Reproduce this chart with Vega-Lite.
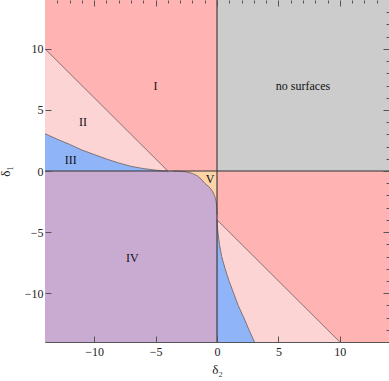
{
  "$schema": "https://vega.github.io/schema/vega-lite/v6.json",
  "width": 344,
  "height": 342,
  "autosize": {"type": "none"},
  "padding": {"left": 45, "top": 0, "right": 0, "bottom": 39},
  "background": "white",
  "config": {
    "view": {"stroke": "#555555", "strokeWidth": 1},
    "axis": {
      "grid": false,
      "domainColor": "#555555",
      "tickColor": "#555555",
      "labelFont": "Liberation Serif",
      "labelFontSize": 12,
      "labelColor": "#222222",
      "titleFont": "Liberation Serif",
      "titleFontSize": 13,
      "titleFontWeight": "normal",
      "titleColor": "#222222"
    }
  },
  "datasets": {
    "quads": [
      {"region": "I", "x1": -14, "x2": 0, "y1": 0, "y2": 14},
      {"region": "none", "x1": 0, "x2": 14, "y1": 0, "y2": 14},
      {"region": "I", "x1": 0, "x2": 14, "y1": -14, "y2": 0},
      {"region": "IV", "x1": -14, "x2": 0, "y1": -14, "y2": 0}
    ],
    "lineUL": [{"d2": -14, "d1": 10}, {"d2": -4, "d1": 0}],
    "curveUL": [
      {"d2": -14, "d1": 3.05}, {"d2": -13, "d1": 2.6}, {"d2": -12, "d1": 2.18},
      {"d2": -11, "d1": 1.72}, {"d2": -10, "d1": 1.35}, {"d2": -9, "d1": 0.98},
      {"d2": -8, "d1": 0.66}, {"d2": -7, "d1": 0.38}, {"d2": -6, "d1": 0.2},
      {"d2": -5, "d1": 0.07}, {"d2": -4.5, "d1": 0.02}, {"d2": -4, "d1": 0}
    ],
    "lineLR": [{"d2": 0, "d1": -4}, {"d2": 10, "d1": -14}],
    "curveLR": [
      {"d1": -14, "d2": 3.05}, {"d1": -13, "d2": 2.6}, {"d1": -12, "d2": 2.18},
      {"d1": -11, "d2": 1.72}, {"d1": -10, "d2": 1.35}, {"d1": -9, "d2": 0.98},
      {"d1": -8, "d2": 0.66}, {"d1": -7, "d2": 0.38}, {"d1": -6, "d2": 0.2},
      {"d1": -5, "d2": 0.07}, {"d1": -4.5, "d2": 0.02}, {"d1": -4, "d2": 0}
    ],
    "corner": [
      {"d2": -3.6, "d1": 0}, {"d2": -3, "d1": -0.02}, {"d2": -2.5, "d1": -0.07},
      {"d2": -2, "d1": -0.2}, {"d2": -1.6, "d1": -0.4}, {"d2": -1.3, "d1": -0.65},
      {"d2": -1, "d1": -1}, {"d2": -0.65, "d1": -1.3}, {"d2": -0.4, "d1": -1.6},
      {"d2": -0.2, "d1": -2}, {"d2": -0.07, "d1": -2.5}, {"d2": -0.02, "d1": -3},
      {"d2": 0, "d1": -3.6}
    ],
    "labels": [
      {"label": "I", "d2": -5, "d1": 7},
      {"label": "II", "d2": -10.9, "d1": 4},
      {"label": "III", "d2": -11.9, "d1": 0.9},
      {"label": "IV", "d2": -6.9, "d1": -7.1},
      {"label": "V", "d2": -0.57, "d1": -0.68},
      {"label": "no surfaces", "d2": 7, "d1": 7}
    ]
  },
  "layer": [
    {
      "layer": [
        {
          "data": {"name": "quads"},
          "mark": {"type": "rect"},
          "encoding": {
            "x": {"field": "x1", "type": "quantitative", "scale": {"domain": [-14, 14], "nice": false, "zero": false},
              "axis": {"orient": "bottom", "title": "δ₂", "titlePadding": 6, "zindex": 1,
                "values": [-10, -5, 0, 5, 10], "tickSize": -6,
                "labelPadding": 10, "domain": false}},
            "x2": {"field": "x2"},
            "y": {"field": "y1", "type": "quantitative", "scale": {"domain": [-14, 14], "nice": false, "zero": false},
              "axis": {"orient": "left", "title": "δ₁", "titlePadding": 12, "zindex": 1,
                "values": [-10, -5, 0, 5, 10], "tickSize": -6,
                "labelPadding": 8, "domain": false}},
            "y2": {"field": "y2"},
            "color": {"field": "region", "type": "nominal",
              "scale": {"domain": ["I", "none", "IV"], "range": ["#ffb3b3", "#cccccc", "#c9abd1"]},
              "legend": null}
          }
        },
        {
          "data": {"name": "lineUL"},
          "mark": {"type": "area", "color": "#fcd4d4", "opacity": 1},
          "encoding": {
            "x": {"field": "d2", "type": "quantitative"},
            "y": {"field": "d1", "type": "quantitative"},
            "y2": {"datum": 0}
          }
        },
        {
          "data": {"name": "curveUL"},
          "mark": {"type": "area", "color": "#8fb5f8", "opacity": 1},
          "encoding": {
            "x": {"field": "d2", "type": "quantitative"},
            "y": {"field": "d1", "type": "quantitative"},
            "y2": {"datum": 0}
          }
        },
        {
          "data": {"name": "lineLR"},
          "mark": {"type": "area", "orient": "horizontal", "color": "#fcd4d4", "opacity": 1},
          "encoding": {
            "y": {"field": "d1", "type": "quantitative"},
            "x": {"field": "d2", "type": "quantitative"},
            "x2": {"datum": 0}
          }
        },
        {
          "data": {"name": "curveLR"},
          "mark": {"type": "area", "orient": "horizontal", "color": "#8fb5f8", "opacity": 1},
          "encoding": {
            "y": {"field": "d1", "type": "quantitative"},
            "x": {"field": "d2", "type": "quantitative"},
            "x2": {"datum": 0}
          }
        },
        {
          "data": {"name": "corner"},
          "mark": {"type": "area", "color": "#fdd3aa", "opacity": 1},
          "encoding": {
            "x": {"field": "d2", "type": "quantitative"},
            "y": {"field": "d1", "type": "quantitative"},
            "y2": {"datum": 0}
          }
        },
        {
          "data": {"name": "lineUL"},
          "mark": {"type": "line", "color": "#7d6868", "strokeWidth": 0.9},
          "encoding": {"x": {"field": "d2", "type": "quantitative"}, "y": {"field": "d1", "type": "quantitative"}}
        },
        {
          "data": {"name": "curveUL"},
          "mark": {"type": "line", "color": "#7d6868", "strokeWidth": 0.9},
          "encoding": {"x": {"field": "d2", "type": "quantitative"}, "y": {"field": "d1", "type": "quantitative"}}
        },
        {
          "data": {"name": "lineLR"},
          "mark": {"type": "line", "color": "#7d6868", "strokeWidth": 0.9},
          "encoding": {"x": {"field": "d2", "type": "quantitative"}, "y": {"field": "d1", "type": "quantitative"}}
        },
        {
          "data": {"name": "curveLR"},
          "mark": {"type": "line", "color": "#7d6868", "strokeWidth": 0.9},
          "encoding": {"x": {"field": "d2", "type": "quantitative"}, "y": {"field": "d1", "type": "quantitative"}}
        },
        {
          "data": {"name": "corner"},
          "mark": {"type": "line", "color": "#7d6868", "strokeWidth": 0.9},
          "encoding": {"x": {"field": "d2", "type": "quantitative"}, "y": {"field": "d1", "type": "quantitative"}}
        },
        {
          "data": {"values": [{"v": 0}]},
          "mark": {"type": "rule", "color": "#333333", "strokeWidth": 1.1},
          "encoding": {"x": {"field": "v", "type": "quantitative"}}
        },
        {
          "data": {"values": [{"v": 0}]},
          "mark": {"type": "rule", "color": "#333333", "strokeWidth": 1.1},
          "encoding": {"y": {"field": "v", "type": "quantitative"}}
        },
        {
          "data": {"name": "labels"},
          "mark": {"type": "text", "font": "Liberation Serif", "fontSize": 12, "color": "#111111"},
          "encoding": {
            "x": {"field": "d2", "type": "quantitative"},
            "y": {"field": "d1", "type": "quantitative"},
            "text": {"field": "label"}
          }
        }
      ]
    },
    {
      "data": {"name": "labels"},
      "mark": {"type": "point", "opacity": 0},
      "encoding": {
        "x": {"field": "d2", "type": "quantitative", "scale": {"domain": [-14, 14], "nice": false, "zero": false},
          "axis": {"orient": "top", "title": null, "labels": false, "domain": false, "zindex": 1,
            "values": [-13,-12,-11,-10,-9,-8,-7,-6,-5,-4,-3,-2,-1,0,1,2,3,4,5,6,7,8,9,10,11,12,13],
            "tickSize": {"condition": {"test": "datum.value % 5 == 0", "value": -6}, "value": -3}}},
        "y": {"field": "d1", "type": "quantitative", "scale": {"domain": [-14, 14], "nice": false, "zero": false},
          "axis": {"orient": "right", "title": null, "labels": false, "domain": false, "zindex": 1,
            "values": [-13,-12,-11,-10,-9,-8,-7,-6,-5,-4,-3,-2,-1,0,1,2,3,4,5,6,7,8,9,10,11,12,13],
            "tickSize": {"condition": {"test": "datum.value % 5 == 0", "value": -6}, "value": -3}}}
      }
    }
  ],
  "resolve": {"axis": {"x": "independent", "y": "independent"}}
}
